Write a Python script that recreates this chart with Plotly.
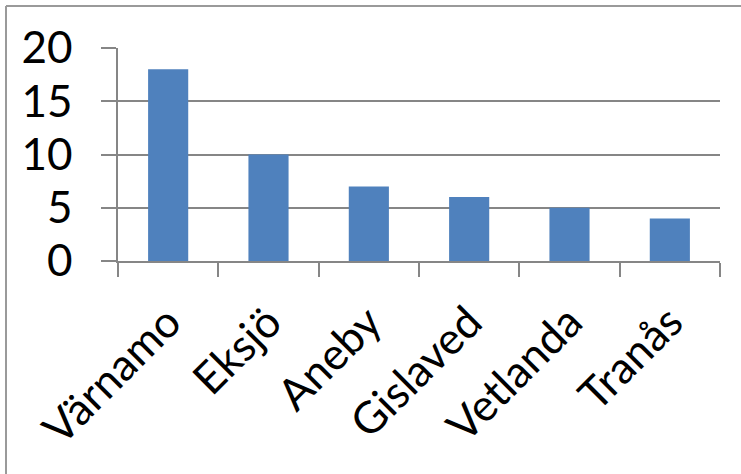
import plotly.graph_objects as go

categories = ["Värnamo", "Eksjö", "Aneby", "Gislaved", "Vetlanda", "Tranås"]
values = [18, 10, 7, 6, 5, 4]
y_ticks = [0, 5, 10, 15, 20]

W, H = 741, 474
L, R, T, B = 118, 21, 48, 213
pw, ph = W - L - R, H - T - B

FONT = "Lato, Calibri, sans-serif"
GRID = "#868686"

fig = go.Figure(go.Bar(x=categories, y=values, marker=dict(color="#4F81BD", line=dict(width=0)), width=0.4))

fig.update_layout(
    width=W, height=H,
    margin=dict(l=L, r=R, t=T, b=B, pad=0, autoexpand=False),
    plot_bgcolor="white", paper_bgcolor="white",
    showlegend=False,
    bargap=0.6,
    font=dict(family=FONT, color="black"),
)
fig.update_yaxes(
    range=[0, 20], tickvals=y_ticks, ticktext=[str(v) for v in y_ticks],
    showgrid=True, gridcolor=GRID, gridwidth=1.5,
    showline=True, linecolor=GRID, linewidth=1.5,
    ticks="outside", ticklen=15, tickcolor=GRID, tickwidth=1.5,
    tickfont=dict(size=44, family=FONT),
    ticklabelstandoff=20,
    zeroline=False, fixedrange=True, automargin=False,
)
fig.update_xaxes(
    type="category",
    showline=True, linecolor=GRID, linewidth=1.5,
    ticks="outside", ticklen=14, tickcolor=GRID, tickwidth=1.5,
    tickson="boundaries",
    tickangle=-45,
    tickfont=dict(size=44, family=FONT),
    ticklabelstandoff=16,
    showgrid=False, fixedrange=True, automargin=False,
)

# outer chart border (only top and left visible)
bx0 = (6 - L) / pw
by1 = (H - B - 6) / ph
fig.add_shape(type="line", xref="paper", yref="paper", x0=bx0, x1=(W + 5 - L) / pw, y0=by1, y1=by1,
              line=dict(color="#9a9a9a", width=2))
fig.add_shape(type="line", xref="paper", yref="paper", x0=bx0, x1=bx0, y0=by1, y1=(H - B - H - 5) / ph,
              line=dict(color="#9a9a9a", width=2))

fig.write_html("out.html", config={"displayModeBar": False},
               post_script="document.body.style.margin='0';document.body.style.overflow='hidden';")
